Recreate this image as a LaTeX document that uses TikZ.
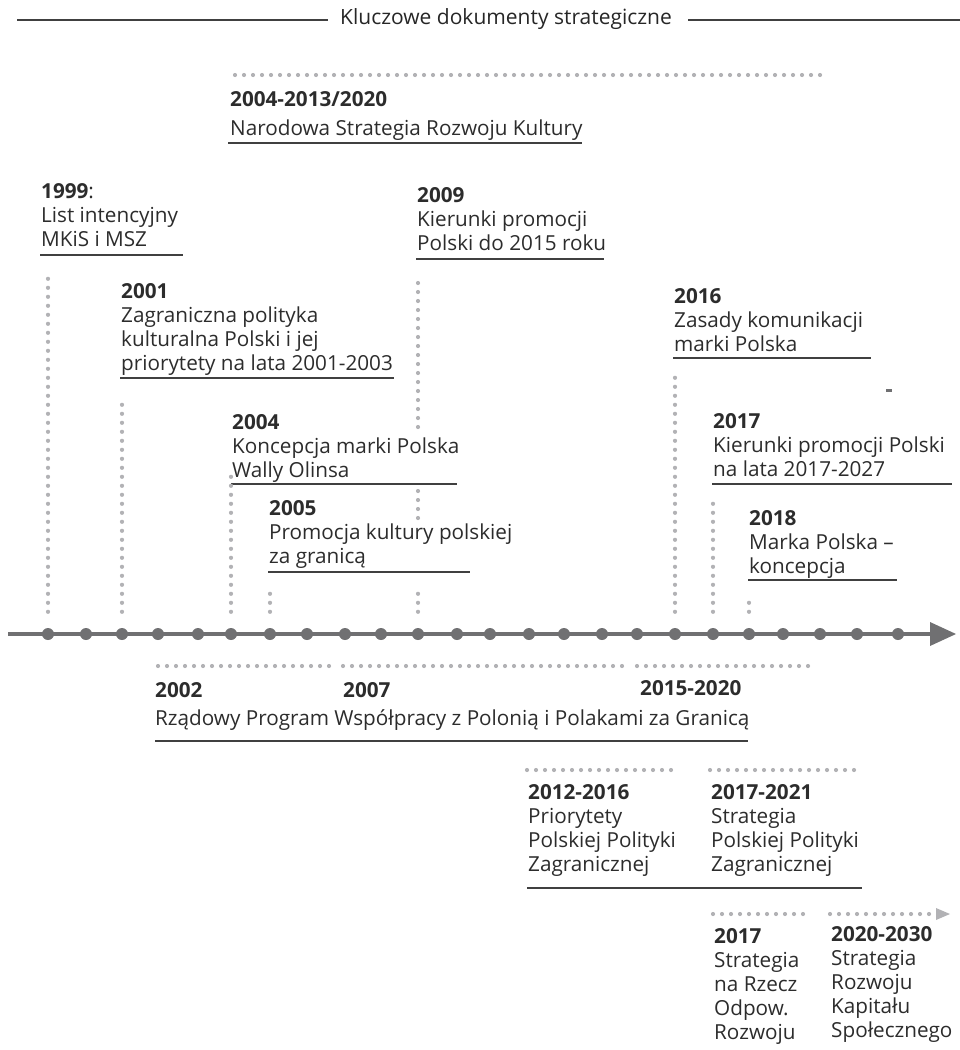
\documentclass[tikz,border=0pt]{standalone}
\usepackage{fontspec}
\setmainfont{Open Sans}
\definecolor{txt}{HTML}{2C2C2C}
\definecolor{rulec}{HTML}{404040}
\definecolor{axisc}{HTML}{707072}
\definecolor{dotc}{HTML}{B2B2B5}
\begin{document}
\begin{tikzpicture}[x=1pt,y=-1pt,
    entry/.style={anchor=base west, align=left, text=txt, font=\fontsize{20.7}{24}\selectfont},
    uline/.style={rulec, line width=1.8pt},
    dotline/.style={dotc, line width=4.2pt, line cap=round, dash pattern=on 0pt off 9pt},
    axdot/.style={circle, fill=axisc, minimum size=12pt}]
    \tikzstyle{every node}+=[inner sep=0pt]
    \useasboundingbox (0,0) rectangle (960,1050);
    % title
    \node[text=black!85, font=\fontsize{21}{24}\selectfont] (title) at (506,19) {Kluczowe dokumenty strategiczne};
    \draw[uline] (17,20) -- (328,20);
    \draw[uline] (688,20) -- (960,20);
    % timeline
    \draw[axisc, line width=4pt] (8,634) -- (934,634);
    \fill[axisc] (930,622) -- (956,634) -- (930,646) -- cycle;
    \foreach \x [count=\i] in {48,86,122,158,198,231,270,307,345,381,418,457,
                               490,529,564,602,637,675,713,749,783,820,857,898}
      \node[axdot] (d\i) at (\x,634) {};
    % above the axis (anchors sit on the last line)
    \draw[dotline] (235,75) -- (822,75);
    \node[entry] (nsrk) at (230,135) {\textbf{2004-2013/2020}\\[5pt]Narodowa Strategia Rozwoju Kultury};
    \draw[uline] (228,143) -- (582,143);
    \node[entry] (e1999) at (41,246) {\textbf{1999}:\\List intencyjny\\MKiS i MSZ};
    \draw[uline] (40,255) -- (183,255);
    \node[entry] (e2009) at (417,250) {\textbf{2009}\\Kierunki promocji\\Polski do 2015 roku};
    \draw[uline] (416,259) -- (604,259);
    \node[entry] (e2001) at (121,370) {\textbf{2001}\\Zagraniczna polityka\\kulturalna Polski i jej\\priorytety na lata 2001-2003};
    \draw[uline] (120,378) -- (394,378);
    \node[entry] (e2016) at (674,351) {\textbf{2016}\\Zasady komunikacji\\marki Polska};
    \draw[uline] (673,358) -- (871,358);
    \draw[axisc, line width=3pt] (886,390) -- (892,390);
    \node[entry] (e2004) at (232,477) {\textbf{2004}\\Koncepcja marki Polska\\Wally Olinsa};
    \draw[uline] (231,484) -- (457,484);
    \node[entry] (e2017k) at (713,476) {\textbf{2017}\\Kierunki promocji Polski\\na lata 2017-2027};
    \draw[uline] (712,484) -- (952,484);
    \node[entry] (e2005) at (269,563) {\textbf{2005}\\Promocja kultury polskiej\\za granicą};
    \draw[uline] (268,572) -- (470,572);
    \node[entry] (e2018) at (749,573) {\textbf{2018}\\Marka Polska --\\koncepcja};
    \draw[uline] (748,580) -- (897,580);
    % dotted drops to the axis
    \draw[dotline] ([yshift=16pt]d1.north) -- (d1 |- 0,272);
    \draw[dotline] ([yshift=16pt]d3.north) -- (d3 |- 0,402);
    \draw[dotline] ([yshift=16pt]d6.north) -- (d6 |- 0,476);
    \draw[dotline] ([yshift=16pt]d7.north) -- (d7 |- 0,590);
    \draw[dotline] ([yshift=16pt]d11.north) -- (d11 |- 0,586);
    \draw[dotline] (d11 |- 0,518) -- (d11 |- 0,491);
    \draw[dotline] (d11 |- 0,427) -- (d11 |- 0,277);
    \draw[dotline] ([yshift=16pt]d18.north) -- (d18 |- 0,374);
    \draw[dotline] ([yshift=16pt]d19.north) -- (d19 |- 0,503);
    \draw[dotline] ([yshift=16pt]d20.north) -- (d20 |- 0,596);
    % below the axis
    \draw[dotline] (158,666) -- (332,666);
    \draw[dotline] (343,666) -- (625,666);
    \draw[dotline] (637,666) -- (810,666);
    \node[entry] (y2002) at (155,697) {\textbf{2002}};
    \node[entry] (y2007) at (343,697) {\textbf{2007}};
    \node[entry] (y2015) at (640,695) {\textbf{2015-2020}};
    \node[entry] (rpw) at (155,725) {Rządowy Program Współpracy z Polonią i Polakami za Granicą};
    \draw[uline] (155,741) -- (748,741);
    \draw[dotline] (527,770) -- (672,770);
    \draw[dotline] (710,770) -- (857,770);
    \node[entry] (e2012) at (528,871) {\textbf{2012-2016}\\Priorytety\\Polskiej Polityki\\Zagranicznej};
    \node[entry] (e2017s) at (711,871) {\textbf{2017-2021}\\Strategia\\Polskiej Polityki\\Zagranicznej};
    \draw[uline] (527,888) -- (862,888);
    \draw[dotline] (713,914) -- (810,914);
    \draw[dotline] (830,914) -- (932,914);
    \fill[dotc] (936,908) -- (950,914) -- (936,920) -- cycle;
    \node[entry] (e2017r) at (714,1039) {\textbf{2017}\\Strategia\\na Rzecz\\Odpow.\\Rozwoju};
    \node[entry] (e2020) at (831,1037) {\textbf{2020-2030}\\Strategia\\Rozwoju\\Kapitału\\Społecznego};
\end{tikzpicture}
\end{document}
